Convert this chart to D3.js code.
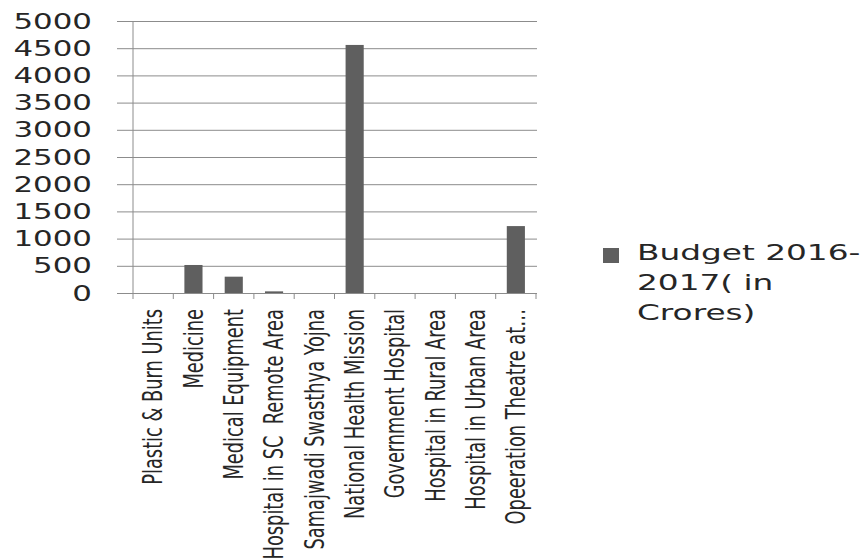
<!DOCTYPE html>
<html>
<head>
<meta charset="utf-8">
<script src="https://cdn.jsdelivr.net/npm/d3@7/dist/d3.min.js"></script>
<style>
  html, body { margin: 0; padding: 0; background: #ffffff; }
  svg { display: block; }
</style>
</head>
<body>
<svg id="chart" width="863" height="558"></svg>
<script>
// ---- data ----
const categories = [
  "Plastic & Burn Units",
  "Medicine",
  "Medical Equipment",
  "Hospital in SC  Remote Area",
  "Samajwadi Swasthya Yojna",
  "National Health Mission",
  "Government Hospital",
  "Hospital in Rural Area",
  "Hospital in Urban Area",
  "Opeeration Theatre at\u2026"
];
const budgetValues = [0, 515, 300, 30, 0, 4560, 0, 0, 0, 1230];
const yTickValues = [0, 500, 1000, 1500, 2000, 2500, 3000, 3500, 4000, 4500, 5000];
const seriesName = ["Budget 2016-", "2017( in", "Crores)"];

// ---- layout ----
const svg = d3.select("#chart");
const plotLeft = 133, plotRight = 536, plotTop = 21, plotBottom = 293;
const gridLeft = 117, gridRight = 537;
const barColor = "#5f5f5f";
const lineColor = "#8c8c8c";
const textColor = "#262626";

const x = d3.scaleBand().domain(categories).range([plotLeft, plotRight])
  .paddingInner(0.55).paddingOuter(0.275);
const y = d3.scaleLinear().domain([0, 5000]).range([plotBottom, plotTop]);

// gridlines (extend left of the axis like tick marks)
svg.append("g")
  .attr("transform", `translate(${gridLeft},0)`)
  .call(d3.axisLeft(y).tickValues(yTickValues).tickSize(-(gridRight - gridLeft)).tickFormat(""))
  .call(g => g.select(".domain").remove())
  .call(g => g.selectAll(".tick line").attr("stroke", lineColor).attr("stroke-width", 1));

// y axis line
svg.append("line")
  .attr("x1", plotLeft).attr("x2", plotLeft)
  .attr("y1", y(5000)).attr("y2", y(0))
  .attr("stroke", lineColor).attr("stroke-width", 1);

// x axis tick marks at category boundaries
const boundaries = d3.range(categories.length + 1).map(i => x.range()[0] + i * x.step());
svg.append("g").selectAll("line").data(boundaries).join("line")
  .attr("x1", d => d).attr("x2", d => d)
  .attr("y1", y(0)).attr("y2", y(0) + 6)
  .attr("stroke", lineColor).attr("stroke-width", 1);

// bars
svg.append("g").selectAll("rect").data(categories).join("rect")
  .attr("x", d => x(d))
  .attr("width", x.bandwidth())
  .attr("y", (d, i) => y(budgetValues[i]))
  .attr("height", (d, i) => y(0) - y(budgetValues[i]))
  .attr("fill", barColor);

// y tick labels (wide geometric look)
svg.append("g").selectAll("text").data(yTickValues).join("text")
  .attr("transform", d => `translate(92,${y(d) + 7.6}) scale(1.47,1)`)
  .attr("text-anchor", "end")
  .attr("font-family", "DejaVu Sans, sans-serif")
  .attr("font-size", 21)
  .attr("fill", textColor)
  .text(d => d);

// x category labels (rotated, condensed)
svg.append("g").selectAll("text").data(categories).join("text")
  .attr("transform", d => `translate(${x(d) + x.bandwidth() / 2},309) scale(1.3,1) rotate(-90)`)
  .attr("text-anchor", "end")
  .attr("dy", "0.36em")
  .attr("font-family", "'Liberation Sans Narrow', 'DejaVu Sans Condensed', sans-serif")
  .attr("font-size", 19.8)
  .attr("fill", textColor)
  .style("white-space", "pre")
  .text(d => d);

// legend
const legend = svg.append("g");
legend.append("rect")
  .attr("x", 603).attr("y", 248).attr("width", 16).attr("height", 15)
  .attr("fill", barColor);
legend.selectAll("text").data(seriesName).join("text")
  .attr("transform", (d, i) => `translate(637,${260 + i * 30}) scale(1.56,1)`)
  .attr("font-family", "DejaVu Sans, sans-serif")
  .attr("font-size", 21)
  .attr("fill", textColor)
  .text(d => d);
</script>
</body>
</html>
